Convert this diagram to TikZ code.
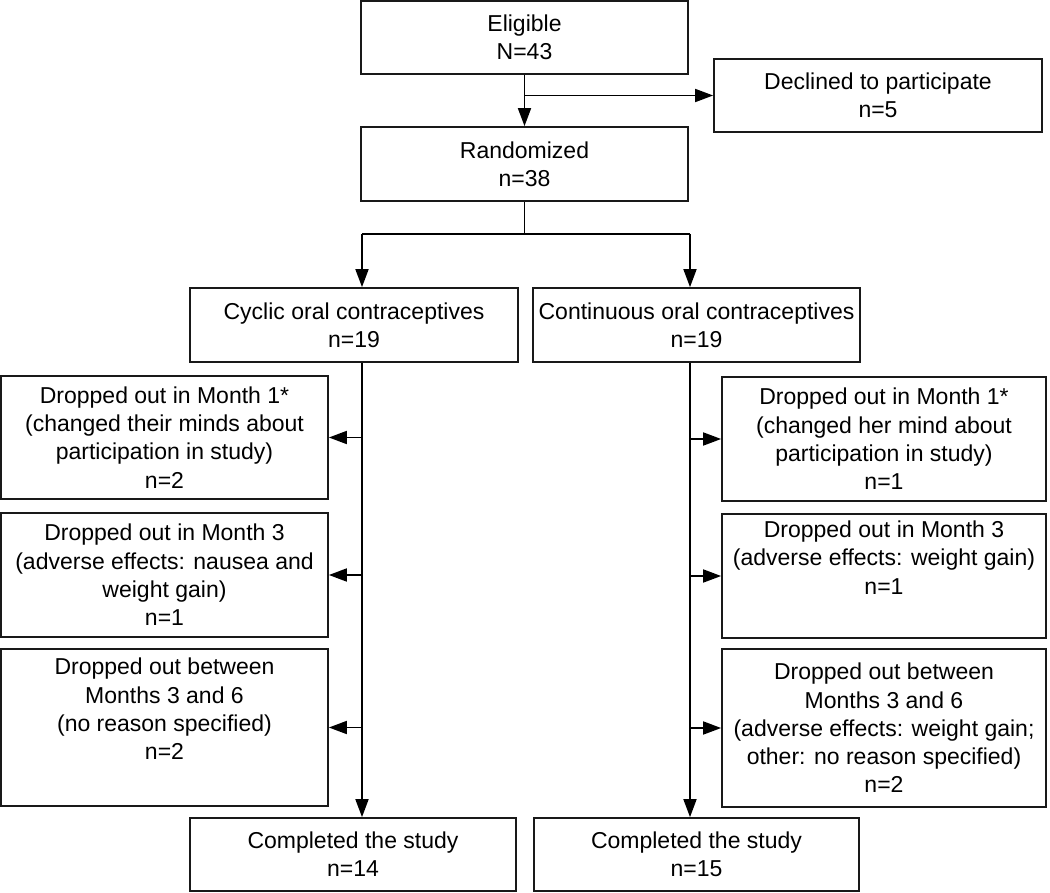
\documentclass[tikz,border=0pt]{standalone}
\usepackage{fontspec}
\setmainfont{Liberation Sans}
\usetikzlibrary{arrows.meta}
\begin{document}
\begin{tikzpicture}[x=0.5pt,y=-0.5pt,
  box/.style={draw=black!90, line width=0.85pt, rectangle, inner sep=0pt, align=center,
    font=\fontsize{11.5pt}{14.15pt}\selectfont},
  arr/.style={line width=0.85pt, -{Triangle[length=9pt,width=6.5pt]}},
  ln/.style={line width=0.85pt}]
\fill[white] (0,0) rectangle (1050,893);
\useasboundingbox (0,0) rectangle (1050,893);
% spine coordinates
\coordinate (lspine) at (362,0);
\coordinate (rspine) at (690,0);
\coordinate (split) at (524.5,234);
% nodes
\node[box, minimum width=163.5pt, minimum height=36.5pt] (elig) at (524.5,37.5) {Eligible\\N=43};
\node[box, minimum width=164pt, minimum height=36.5pt] (decl) at (878,95.5) {Declined to participate\\n=5};
\node[box, minimum width=163.5pt, minimum height=37pt] (rand) at (524.5,164) {Randomized\\n=38};
\node[box, minimum width=164pt, minimum height=37pt] (cyc) at (354,325) {Cyclic oral contraceptives\\n=19};
\node[box, minimum width=163.5pt, minimum height=37pt] (cont) at (696.5,325) {Continuous oral contraceptives\\n=19};
\node[box, minimum width=163.5pt, minimum height=61.5pt] (dL1) at (164.5,437.5) {Dropped out in Month 1*\\(changed their minds about\\participation in study)\\n=2};
\node[box, minimum width=163.5pt, minimum height=62pt] (dL2) at (164.5,575) {Dropped out in Month 3\\(adverse effects: nausea and\\weight gain)\\n=1};
\node[box, minimum width=163.5pt, minimum height=78.5pt] (dL3) at (164.5,727.5) {Dropped out between\\Months 3 and 6\\(no reason specified)\\n=2\\\strut};
\node[box, minimum width=162pt, minimum height=62pt] (dR1) at (884,439) {Dropped out in Month 1*\\(changed her mind about\\participation in study)\\n=1};
\node[box, minimum width=162pt, minimum height=62pt] (dR2) at (884,576) {Dropped out in Month 3\\(adverse effects: weight gain)\\n=1\\\strut};
\node[box, minimum width=162pt, minimum height=79pt] (dR3) at (884,728) {Dropped out between\\Months 3 and 6\\(adverse effects: weight gain;\\other: no reason specified)\\n=2};
\node[box, minimum width=163pt, minimum height=36.5pt] (compL) at (353,854.5) {Completed the study\\n=14};
\node[box, minimum width=162.5pt, minimum height=36.5pt] (compR) at (696.5,854.5) {Completed the study\\n=15};
% connectors
\draw[arr] (elig.south) -- (rand.north);
\draw[arr] (elig.south |- decl.west) -- (decl.west);
\draw[ln] (rand.south) -- (split);
\draw[ln] (lspine |- split) -- (rspine |- split);
\draw[arr] (lspine |- split) -- (lspine |- cyc.north);
\draw[arr] (rspine |- split) -- (rspine |- cont.north);
\draw[arr] (lspine |- cyc.south) -- (lspine |- compL.north);
\draw[arr] (rspine |- cont.south) -- (rspine |- compR.north);
\draw[arr] (lspine |- dL1.east) -- (dL1.east);
\draw[arr] (lspine |- dL2.east) -- (dL2.east);
\draw[arr] (lspine |- dL3.east) -- (dL3.east);
\draw[arr] (rspine |- dR1.west) -- (dR1.west);
\draw[arr] (rspine |- dR2.west) -- (dR2.west);
\draw[arr] (rspine |- dR3.west) -- (dR3.west);
\end{tikzpicture}
\end{document}
